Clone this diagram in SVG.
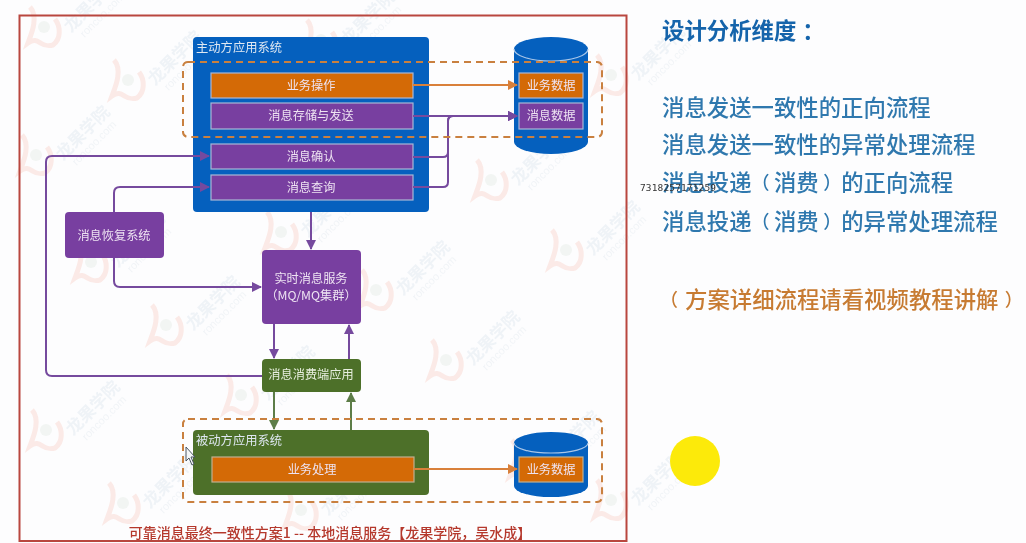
<svg xmlns="http://www.w3.org/2000/svg" xmlns:xlink="http://www.w3.org/1999/xlink" width="1026" height="543" viewBox="0 0 1026 543">
<style>
text{font-family:"Noto Sans CJK SC","Liberation Sans",sans-serif}
.lbl{fill:#eee3f2;font-size:12.2px;text-anchor:middle}
.hdr{fill:#dfe8f2;font-size:12.3px}
.box{stroke:#a9b7d6;stroke-width:1.2}
.or{fill:#d46a06}
.pu{fill:#783fa0}
.con{fill:none;stroke-width:2}
.cp{stroke:#764a9e}
.cg{stroke:#5d7d48}
.co{stroke:#d9803a}
.dash{fill:none;stroke:#c9803f;stroke-width:2;stroke-dasharray:7 5}
.side{fill:#2f78ae;font-size:22.4px;font-weight:500}
.par{font-size:18px}
.wt{fill:#eff3f7;font-weight:700;font-size:17px}
.wu{fill:#f1f4f7;font-size:11px;font-family:"Liberation Sans",sans-serif}
</style>
<defs>
<marker id="ap" viewBox="0 0 10 10" refX="9" refY="5" markerWidth="5" markerHeight="5" orient="auto" markerUnits="strokeWidth"><path d="M0 0L10 5L0 10Z" fill="#764a9e"/></marker>
<marker id="ag" viewBox="0 0 10 10" refX="9" refY="5" markerWidth="5" markerHeight="5" orient="auto" markerUnits="strokeWidth"><path d="M0 0L10 5L0 10Z" fill="#5d7d48"/></marker>
<marker id="ao" viewBox="0 0 10 10" refX="9" refY="5" markerWidth="5" markerHeight="5" orient="auto" markerUnits="strokeWidth"><path d="M0 0L10 5L0 10Z" fill="#d9803a"/></marker>
<filter id="soft" x="-20%" y="-20%" width="140%" height="140%"><feGaussianBlur stdDeviation="0.7"/></filter>
<g id="wm">
<path d="M-13 -20C-4 -10 -12 8 -15 16C-4 8 -3 22 10 18C18 12 18 0 12 -8" fill="none" stroke="#fbeae7" stroke-width="5"/>
<circle cx="1" cy="0" r="6" fill="#f2f5f3"/>
<g transform="translate(28 6) rotate(-45)"><text class="wt">龙果学院</text><text class="wu" x="6" y="13">roncoo.com</text></g>
</g>
</defs>
<rect width="1026" height="543" fill="#fdfdfe"/>
<g id="watermarks" filter="url(#soft)">
<use xlink:href="#wm" x="43" y="27"/><use xlink:href="#wm" x="127" y="80"/><use xlink:href="#wm" x="45" y="430"/><use xlink:href="#wm" x="122" y="503"/>
<use xlink:href="#wm" x="165" y="325"/><use xlink:href="#wm" x="445" y="360"/><use xlink:href="#wm" x="490" y="180"/><use xlink:href="#wm" x="565" y="250"/>
<use xlink:href="#wm" x="240" y="395"/><use xlink:href="#wm" x="375" y="290"/><use xlink:href="#wm" x="90" y="262"/><use xlink:href="#wm" x="525" y="460"/>
<use xlink:href="#wm" x="610" y="75"/><use xlink:href="#wm" x="320" y="40"/><use xlink:href="#wm" x="300" y="510"/><use xlink:href="#wm" x="610" y="500"/>
<use xlink:href="#wm" x="35" y="155"/><use xlink:href="#wm" x="280" y="232"/>
</g>
<rect id="frame" x="19.5" y="15.5" width="607" height="525.5" fill="none" stroke="#b9473f" stroke-width="2"/>

<g id="cyl1"><path d="M514 49A37 12 0 0 1 588 49V142A37 12 0 0 1 514 142Z" fill="#0560be"/><path d="M514 49A37 12 0 0 0 588 49" fill="none" stroke="#a9c6e8" stroke-width="1.2"/></g>
<g id="cyl2"><path d="M514 443A37 11 0 0 1 588 443V486A37 11 0 0 1 514 486Z" fill="#0560be"/><path d="M514 443A37 10 0 0 0 588 443" fill="none" stroke="#a9c6e8" stroke-width="1.2"/></g>

<g id="active"><rect x="193" y="37" width="236" height="175" rx="4" fill="#0560be"/><text class="hdr" x="196" y="52">主动方应用系统</text></g>
<g id="passive"><rect x="193" y="430" width="236" height="65" rx="4" fill="#4d7029"/><text class="hdr" x="196" y="445">被动方应用系统</text></g>

<g id="n-op"><rect class="box or" x="211" y="73" width="202" height="25"/><text class="lbl" x="311" y="90">业务操作</text></g>
<g id="n-store"><rect class="box pu" x="211" y="103" width="202" height="26"/><text class="lbl" x="311" y="120">消息存储与发送</text></g>
<g id="n-confirm"><rect class="box pu" x="211" y="144" width="202" height="25"/><text class="lbl" x="311" y="161">消息确认</text></g>
<g id="n-query"><rect class="box pu" x="211" y="175" width="202" height="25"/><text class="lbl" x="311" y="192">消息查询</text></g>
<g id="n-data1"><rect class="box or" x="519" y="73" width="64" height="25"/><text class="lbl" x="551" y="90">业务数据</text></g>
<g id="n-msg"><rect class="box pu" x="519" y="103" width="64" height="26"/><text class="lbl" x="551" y="120">消息数据</text></g>
<g id="n-recover"><rect x="65" y="212" width="99" height="46" rx="4" class="pu"/><text class="lbl" x="114" y="240">消息恢复系统</text></g>
<g id="n-mq"><rect x="262" y="250" width="99" height="74" rx="4" class="pu"/><text class="lbl" x="311" y="283">实时消息服务</text><text class="lbl" x="311" y="300">（MQ/MQ集群）</text></g>
<g id="n-consumer"><rect x="262" y="359" width="99" height="33" rx="4" fill="#4d7029"/><text class="lbl" x="311" y="379" style="fill:#e8efe0">消息消费端应用</text></g>
<g id="n-biz"><rect x="212" y="457" width="202" height="25" class="or" stroke="#c0b090" stroke-width="1.2"/><text class="lbl" x="312" y="474">业务处理</text></g>
<g id="n-data2"><rect x="519" y="457" width="64" height="25" class="or" stroke="#c0b090" stroke-width="1.2"/><text class="lbl" x="551" y="474">业务数据</text></g>

<g id="connectors">
<path class="con co" d="M413 85H517" marker-end="url(#ao)"/>
<path class="con cp" d="M413 116H517" marker-end="url(#ap)"/>
<path class="con cp" d="M413 157H443Q448 157 448 152V121Q448 116 453 116H517" marker-end="url(#ap)"/>
<path class="con cp" d="M413 187H443Q448 187 448 182V121Q448 116 453 116H517" marker-end="url(#ap)"/>
<path class="con cp" d="M262 376H52Q46 376 46 370V162Q46 156 52 156H209" marker-end="url(#ap)"/>
<path class="con cp" d="M114 212V193Q114 187 120 187H209" marker-end="url(#ap)"/>
<path class="con cp" d="M114 258V281Q114 287 120 287H261" marker-end="url(#ap)"/>
<path class="con cp" d="M311 212V249" marker-end="url(#ap)"/>
<path class="con cp" d="M274 324V358" marker-end="url(#ap)"/>
<path class="con cp" d="M349 359V325" marker-end="url(#ap)"/>
<path class="con cg" d="M274 392V429" marker-end="url(#ag)"/>
<path class="con cg" d="M351 430V393" marker-end="url(#ag)"/>
<path class="con co" d="M414 469H517" marker-end="url(#ao)"/>
</g>
<rect class="dash" x="183" y="62" width="419" height="75" rx="5"/>
<rect class="dash" x="183" y="419" width="419" height="83" rx="5"/>
<text x="330" y="538" text-anchor="middle" fill="#b5382c" font-size="14" font-weight="500">可靠消息最终一致性方案1 -- 本地消息服务【龙果学院，吴水成】</text>
<path id="cursor" d="M186 447V461L189 458L192 465L194 464L191 457H195Z" fill="#f4f6f8" stroke="#4a5560" stroke-width="1"/>

<text x="662" y="39" fill="#1564ab" font-size="22.4" font-weight="700">设计分析维度<tspan dx="6">：</tspan></text>
<text class="side" x="662" y="116">消息发送一致性的正向流程</text>
<text class="side" x="662" y="153">消息发送一致性的异常处理流程</text>
<text class="side" x="662" y="191">消息投递<tspan class="par" dy="-2">（</tspan><tspan dx="4.4" dy="2">消费</tspan><tspan class="par" dx="4.4" dy="-2">）</tspan><tspan dy="2">的正向流程</tspan></text>
<text class="side" x="662" y="230">消息投递<tspan class="par" dy="-2">（</tspan><tspan dx="4.4" dy="2">消费</tspan><tspan class="par" dx="4.4" dy="-2">）</tspan><tspan dy="2">的异常处理流程</tspan></text>
<text x="660" y="308" fill="#c77b32" font-size="22.4" font-weight="500"><tspan class="par" dy="-2">（</tspan><tspan dx="7" dy="2">方案详细流程请看视频教程讲解</tspan><tspan class="par" dx="6.4" dy="-2">）</tspan></text>
<text x="640" y="191" fill="#333" font-size="9.5" style="font-family:'DejaVu Sans Mono','Liberation Mono',monospace" textLength="76">7318257171259</text>
<circle id="pointer" cx="695" cy="461" r="25" fill="#fcea0a"/>
</svg>
